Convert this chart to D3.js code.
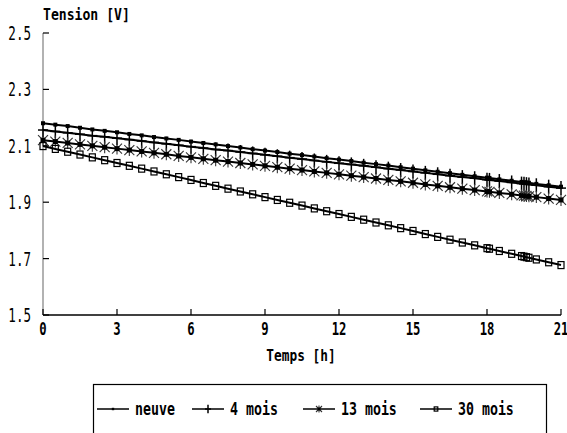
<!DOCTYPE html>
<html>
<head>
<meta charset="utf-8">
<script src="https://cdn.jsdelivr.net/npm/d3@7"></script>
<style>
  body { margin: 0; background: #fff; }
  text { font-family: "DejaVu Sans Mono", "Liberation Mono", monospace; fill: #000; }
</style>
</head>
<body>
<script>
// hours
var times = [0, 0.5, 1, 1.5, 2, 2.5, 3, 3.5, 4, 4.5, 5, 5.5, 6, 6.5, 7, 7.5, 8, 8.5, 9, 9.5,
    10, 10.5, 11, 11.5, 12, 12.5, 13, 13.5, 14, 14.5, 15, 15.5, 16, 16.5, 17, 17.5,
    18, 18.1, 18.5, 19, 19.4, 19.5, 19.6, 19.7, 20, 20.5, 21];

var neuve = [2.180, 2.175, 2.170, 2.164, 2.158, 2.153, 2.148, 2.142, 2.137, 2.131, 2.126, 2.121,
    2.115, 2.110, 2.105, 2.099, 2.094, 2.088, 2.083, 2.078, 2.072, 2.067, 2.062, 2.056, 2.051,
    2.046, 2.040, 2.035, 2.030, 2.024, 2.019, 2.013, 2.008, 2.003, 1.997, 1.992, 1.987, 1.986,
    1.981, 1.976, 1.972, 1.971, 1.970, 1.969, 1.965, 1.960, 1.955];

var mois4 = [2.156, 2.151, 2.146, 2.141, 2.136, 2.132, 2.127, 2.122, 2.117, 2.112, 2.107, 2.102,
    2.097, 2.092, 2.087, 2.083, 2.078, 2.073, 2.068, 2.063, 2.058, 2.053, 2.048, 2.043, 2.038,
    2.034, 2.029, 2.024, 2.019, 2.014, 2.009, 2.004, 1.999, 1.994, 1.989, 1.985, 1.980, 1.979,
    1.975, 1.970, 1.966, 1.965, 1.964, 1.963, 1.960, 1.955, 1.950];

var mois13 = [2.120, 2.115, 2.110, 2.105, 2.100, 2.095, 2.090, 2.085, 2.080, 2.075, 2.070, 2.064,
    2.059, 2.054, 2.049, 2.044, 2.039, 2.034, 2.029, 2.024, 2.019, 2.014, 2.009, 2.004, 1.999,
    1.994, 1.989, 1.984, 1.979, 1.974, 1.969, 1.963, 1.958, 1.953, 1.948, 1.943, 1.938, 1.937,
    1.933, 1.928, 1.924, 1.923, 1.922, 1.921, 1.918, 1.913, 1.908];

var mois30 = [2.099, 2.089, 2.079, 2.069, 2.059, 2.049, 2.039, 2.029, 2.019, 2.009, 1.999, 1.989,
    1.979, 1.968, 1.958, 1.948, 1.938, 1.928, 1.918, 1.908, 1.898, 1.888, 1.878, 1.868, 1.858,
    1.848, 1.838, 1.828, 1.818, 1.808, 1.798, 1.787, 1.777, 1.767, 1.757, 1.747, 1.737, 1.735,
    1.727, 1.717, 1.709, 1.707, 1.705, 1.703, 1.697, 1.687, 1.677];

var seriesNames = ["neuve", "4 mois", "13 mois", "30 mois"];
var seriesMarks = ["dot", "plus", "star", "square"];
var xTicks = [0, 3, 6, 9, 12, 15, 18, 21];
var yTicks = [1.5, 1.7, 1.9, 2.1, 2.3, 2.5];

var series = [neuve, mois4, mois13, mois30].map(function (vals, k) {
    return {
        name: seriesNames[k],
        mark: seriesMarks[k],
        points: vals.map(function (v, i) { return { t: times[i], v: v }; })
    };
});

var W = 567, H = 433;
var svg = d3.select('body').append('svg')
    .attr('width', W)
    .attr('height', H);

var x = d3.scaleLinear().domain([0, 21]).range([43, 561]);
var y = d3.scaleLinear().domain([1.5, 2.5]).range([315, 33]);

// narrow text, the original uses a condensed bitmap font
function label(parent, px, py, str, size, sx, anchor, weight) {
    return parent.append('text')
        .attr('transform', 'translate(' + px + ',' + py + ') scale(' + sx + ',1)')
        .attr('text-anchor', anchor || 'start')
        .style('font-size', size + 'px')
        .style('font-weight', weight || 'normal')
        .text(str);
}

// y axis: grey line, ticks pointing inward
svg.append('line')
    .attr('x1', x(0)).attr('x2', x(0))
    .attr('y1', y(2.5)).attr('y2', y(1.5))
    .attr('stroke', '#999').attr('stroke-width', 1.5);

svg.selectAll('.ytick').data(yTicks).enter().append('line')
    .attr('x1', x(0)).attr('x2', x(0) + 6)
    .attr('y1', function (d) { return y(d); })
    .attr('y2', function (d) { return y(d); })
    .attr('stroke', '#000').attr('stroke-width', 1.2);

yTicks.forEach(function (d) {
    label(svg, 31, y(d) + 7, d.toFixed(1), 19, 0.66, 'end');
});

// x axis
svg.append('line')
    .attr('x1', x(0)).attr('x2', x(21))
    .attr('y1', y(1.5)).attr('y2', y(1.5))
    .attr('stroke', '#000').attr('stroke-width', 1.5);

svg.selectAll('.xtick').data(xTicks).enter().append('line')
    .attr('x1', function (d) { return x(d); })
    .attr('x2', function (d) { return x(d); })
    .attr('y1', y(1.5)).attr('y2', y(1.5) - 6)
    .attr('stroke', '#000').attr('stroke-width', 1.2);

xTicks.forEach(function (d) {
    label(svg, x(d), 335, d, 17, 0.72, 'middle', 'bold');
});

label(svg, 301, 361, 'Temps [h]', 16, 0.8, 'middle', 'bold');
label(svg, 43, 20, 'Tension [V]', 16, 0.82, 'start', 'bold');

// marker drawing
function drawMark(g, kind, s) {
    s = s || 1;
    if (kind == 'dot') {
        g.append('rect').attr('x', -2 * s).attr('y', -2 * s)
            .attr('width', 4 * s).attr('height', 4 * s).attr('fill', '#000');
    } else if (kind == 'plus') {
        g.append('line').attr('x1', 0).attr('x2', 0).attr('y1', -7 * s).attr('y2', 7 * s)
            .attr('stroke', '#000').attr('stroke-width', 1.5);
        g.append('line').attr('x1', -5 * s).attr('x2', 5 * s).attr('y1', 0).attr('y2', 0)
            .attr('stroke', '#000').attr('stroke-width', 1.5);
    } else if (kind == 'star') {
        [[0, -6, 0, 6], [-5, -5, 5, 5], [-5, 5, 5, -5]].forEach(function (l) {
            g.append('line').attr('x1', l[0] * s).attr('y1', l[1] * s)
                .attr('x2', l[2] * s).attr('y2', l[3] * s)
                .attr('stroke', '#333').attr('stroke-width', 1.1);
        });
        g.append('rect').attr('x', -2.5 * s).attr('y', -2.5 * s)
            .attr('width', 5 * s).attr('height', 5 * s).attr('fill', '#000');
    } else {
        g.append('rect').attr('x', -3 * s).attr('y', -3.5 * s)
            .attr('width', 6 * s).attr('height', 7 * s)
            .attr('fill', 'none').attr('stroke', '#000').attr('stroke-width', 1.2);
    }
}

var line = d3.line()
    .x(function (d) { return x(d.t); })
    .y(function (d) { return y(d.v); });

series.forEach(function (s) {
    svg.append('path')
        .datum(s.points)
        .attr('d', line)
        .attr('fill', 'none')
        .attr('stroke', '#000')
        .attr('stroke-width', 2);
    svg.selectAll(null).data(s.points).enter().append('g')
        .attr('transform', function (d) { return 'translate(' + x(d.t) + ',' + y(d.v) + ')'; })
        .each(function () { drawMark(d3.select(this), s.mark); });
});

// legend
svg.append('rect')
    .attr('x', 93.5).attr('y', 384.5)
    .attr('width', 453).attr('height', 60)
    .attr('fill', 'none').attr('stroke', '#000').attr('stroke-width', 1.2);

var legX = [97, 192, 303, 420];
series.forEach(function (s, k) {
    var g = svg.append('g').attr('transform', 'translate(' + legX[k] + ',409)');
    g.append('line').attr('x1', 0).attr('x2', 32).attr('y1', 0).attr('y2', 0)
        .attr('stroke', '#000').attr('stroke-width', 1.5);
    drawMark(g.append('g').attr('transform', 'translate(16,0)'), s.mark, 0.6);
    label(g, 38, 6, s.name, 17, 0.78, 'start', 'bold');
});
</script>
</body>
</html>
